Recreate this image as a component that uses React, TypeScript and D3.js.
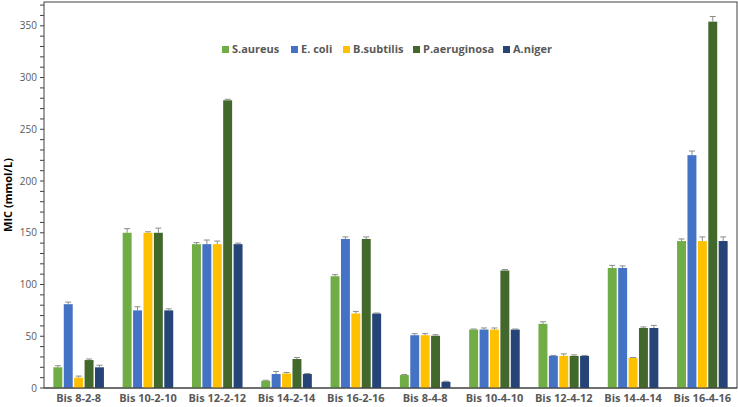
import React from "react";
import * as d3 from "d3";

const categories = ["Bis 8-2-8", "Bis 10-2-10", "Bis 12-2-12", "Bis 14-2-14", "Bis 16-2-16", "Bis 8-4-8", "Bis 10-4-10", "Bis 12-4-12", "Bis 14-4-14", "Bis 16-4-16"];
const seriesNames = ["S.aureus", "E. coli", "B.subtilis", "P.aeruginosa", "A.niger"];
const seriesColors = ["#70AD47", "#4472C4", "#FFC000", "#43682B", "#264478"];
const sAureus = [20, 150, 139, 7, 108, 12.5, 56.5, 62, 116, 142];
const eColi = [81, 75, 139, 13.5, 144, 51, 56.5, 31, 116, 225];
const bSubtilis = [10, 150, 139, 14, 72, 51, 56.5, 31, 29, 142];
const pAeruginosa = [27, 150, 278, 28, 144, 50.5, 113.5, 31, 58, 354];
const aNiger = [20, 75, 139, 13.5, 72, 6, 56.5, 31, 58, 142];
const errSAureus = [1.5, 4, 1.5, 0.5, 1.5, 0.5, 0.5, 2, 2.5, 2];
const errEColi = [2, 3.5, 4, 2.5, 2, 1.5, 1.5, 0.5, 2, 4];
const errBSubtilis = [1.5, 1, 3, 1, 2, 1.5, 1.5, 2, 0.5, 4];
const errPAeruginosa = [1, 4.5, 1, 1.5, 2, 1, 1, 1, 1, 5];
const errANiger = [2, 1.5, 1, 0.5, 0.5, 0.5, 0.5, 0.5, 2.5, 4];
const yMajorTicks = [0, 50, 100, 150, 200, 250, 300, 350];

const values = [sAureus, eColi, bSubtilis, pAeruginosa, aNiger];
const errors = [errSAureus, errEColi, errBSubtilis, errPAeruginosa, errANiger];

export default function App() {
  const W = 738, H = 407;
  const left = 44, right = 737, top = 2, bottom = 388;
  const x = d3.scaleBand<string>().domain(categories).range([left, right]).paddingInner(0).paddingOuter(0);
  const y = d3.scaleLinear().domain([0, 373]).range([bottom, top]);
  const inner = d3.scaleBand<number>().domain(d3.range(5)).range([0, x.bandwidth()]).paddingOuter(0.9).paddingInner(0.14);
  const minor = d3.range(0, 371, 10);
  const font = "'Open Sans', 'Liberation Sans', sans-serif";
  const legendX = [222, 291, 343, 413, 503];
  return (
    <svg width={W} height={H} style={{ position: "absolute", left: 0, top: 0, fontFamily: font }}>
      <rect x={0} y={0} width={W} height={H} fill="#fff" />
      <rect x={left} y={top} width={right - left} height={bottom - top} fill="none" stroke="#404040" strokeWidth={1} />
      {minor.map((t) => (
        <line key={"m" + t} x1={left - 4} x2={left} y1={y(t)} y2={y(t)} stroke="#404040" strokeWidth={1} />
      ))}
      {yMajorTicks.map((t) => (
        <text key={"t" + t} x={37} y={y(t)} dy="0.35em" textAnchor="end" fontSize={10} fill="#595959">{t}</text>
      ))}
      <text transform={`translate(12,${(top + bottom) / 2}) rotate(-90)`} textAnchor="middle" fontSize={11} fontWeight="bold" fill="#000">MIC (mmol/L)</text>
      {categories.map((c, ci) => (
        <g key={c}>
          {values.map((vals, si) => {
            const bx = (x(c) as number) + (inner(si) as number);
            const bw = inner.bandwidth();
            const v = vals[ci];
            const e = errors[si][ci];
            const cx = bx + bw / 2;
            return (
              <g key={si}>
                <rect x={bx} y={y(v)} width={bw} height={bottom - y(v)} fill={seriesColors[si]} />
                <line x1={cx} x2={cx} y1={y(v)} y2={y(v + e)} stroke="#8c8c8c" strokeWidth={1} />
                <line x1={cx - 3} x2={cx + 3} y1={y(v + e)} y2={y(v + e)} stroke="#8c8c8c" strokeWidth={1} />
              </g>
            );
          })}
          <text x={(x(c) as number) + x.bandwidth() / 2} y={402} textAnchor="middle" fontSize={11} fontWeight="bold" fill="#595959">{c}</text>
        </g>
      ))}
      <line x1={left} x2={right} y1={bottom} y2={bottom} stroke="#404040" strokeWidth={1} />
      {seriesNames.map((n, i) => (
        <g key={n}>
          <rect x={legendX[i]} y={46} width={7} height={7} fill={seriesColors[i]} />
          <text x={legendX[i] + 10} y={53} fontSize={11} fontWeight="bold" fill="#595959">{n}</text>
        </g>
      ))}
    </svg>
  );
}
